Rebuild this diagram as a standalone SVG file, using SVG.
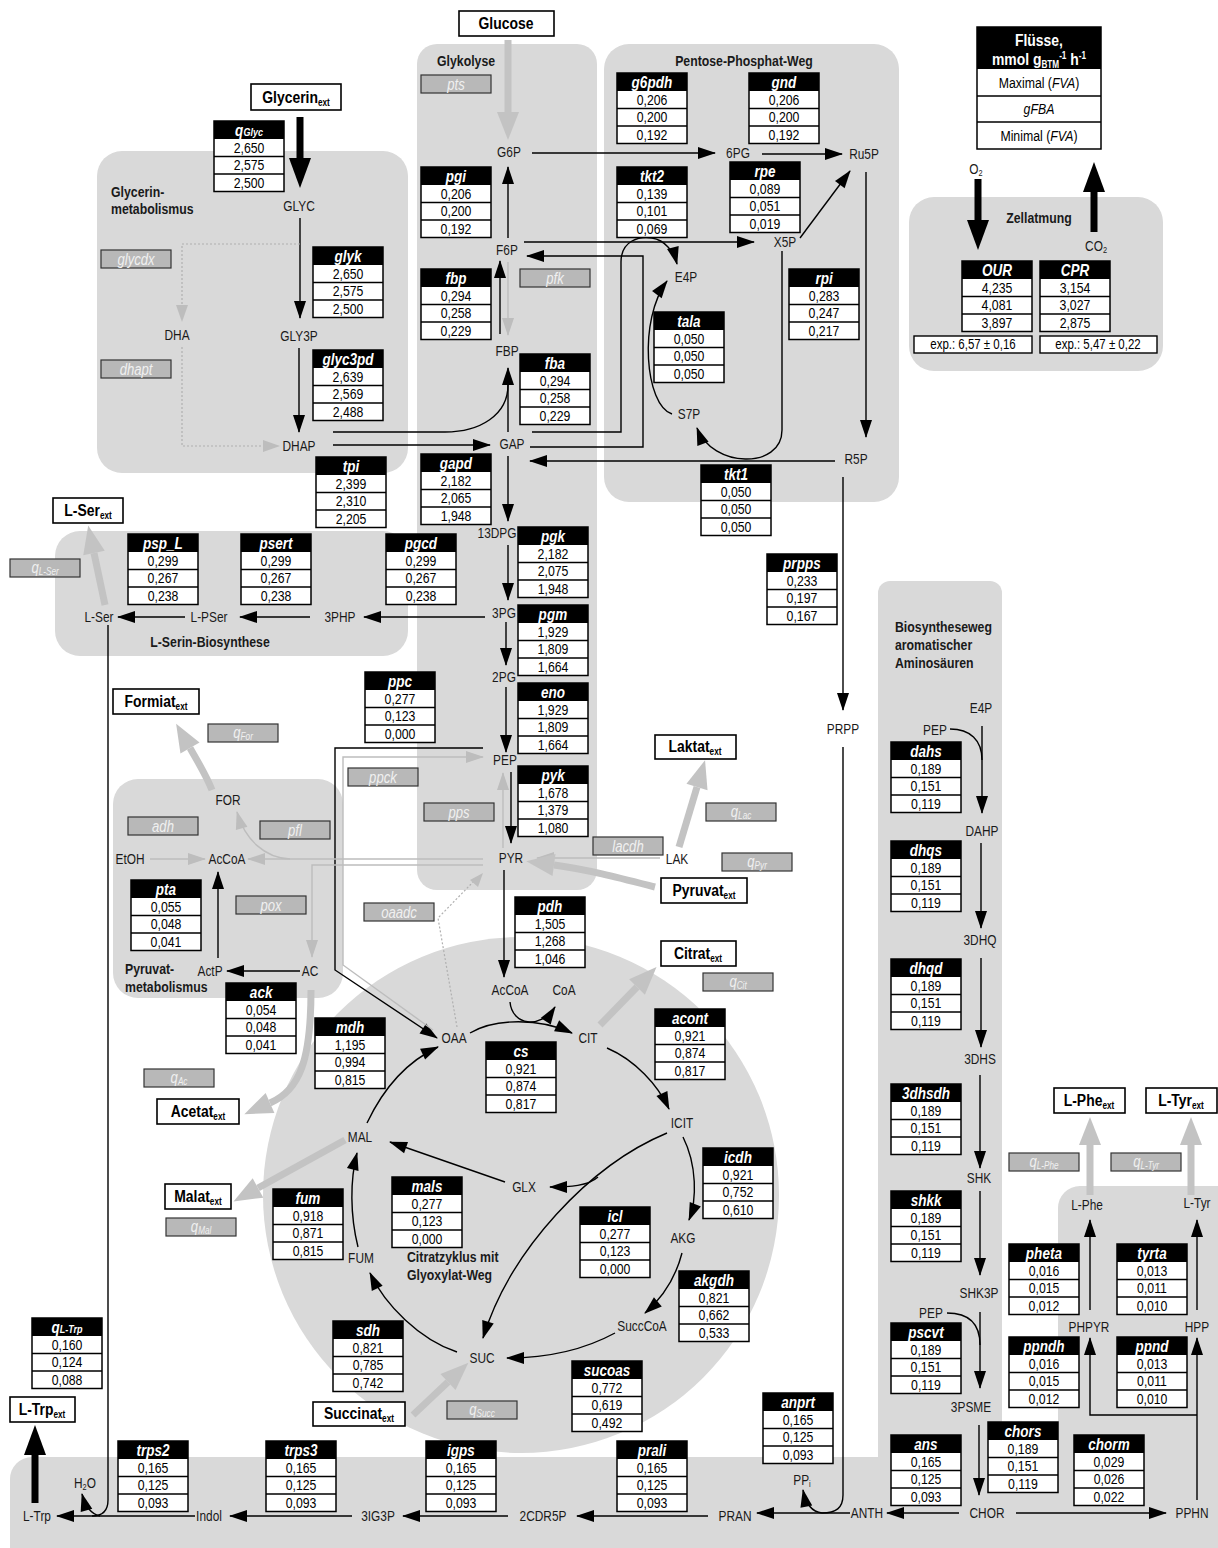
<svg xmlns="http://www.w3.org/2000/svg" width="1218" height="1548" viewBox="0 0 1218 1548">
<style>
text{transform-box:fill-box;transform-origin:center;transform:scaleX(.82)}
.m{font:14.5px "Liberation Sans",Arial,sans-serif;fill:#1a1a1a;text-anchor:middle}
.hd{font:italic bold 16.5px "Liberation Sans",Arial,sans-serif;fill:#fff;text-anchor:middle}
.v{font:15px "Liberation Sans",Arial,sans-serif;fill:#000;text-anchor:middle}
.gb{fill:#b8b8b8;stroke:#333;stroke-width:1.2}
.gt{font:italic 16px "Liberation Sans",Arial,sans-serif;fill:#f0f0f0;text-anchor:middle}
.eb{fill:#fff;stroke:#000;stroke-width:1.6}
.et{font:bold 17px "Liberation Sans",Arial,sans-serif;fill:#000;text-anchor:middle}
.lb{font:bold 15px "Liberation Sans",Arial,sans-serif;fill:#1a1a1a;transform-origin:left center}
.lbc{font:bold 15px "Liberation Sans",Arial,sans-serif;fill:#1a1a1a;text-anchor:middle}
.pn{fill:#d9d9d9}
.c{fill:none;stroke:#000;stroke-width:1.4}
.g{fill:none;stroke:#bdbdbd;stroke-width:1.4}
.d{fill:none;stroke:#b0b0b0;stroke-width:1.2;stroke-dasharray:2 2}
.tg{fill:none;stroke:#c3c3c3;stroke-width:7}
.tb{fill:none;stroke:#000;stroke-width:7}
.lw{font:bold 17px "Liberation Sans",Arial,sans-serif;fill:#fff;text-anchor:middle}
.lr{font:15px "Liberation Sans",Arial,sans-serif;fill:#000;text-anchor:middle}
.ex{font:14px "Liberation Sans",Arial,sans-serif;fill:#000;text-anchor:middle}
</style>
<defs>
<marker id="ab" markerUnits="userSpaceOnUse" markerWidth="18" markerHeight="12" refX="17" refY="6" orient="auto" viewBox="0 0 18 12" overflow="visible"><path d="M0,0 L18,6 L0,12 z" fill="#000"/></marker>
<marker id="ag" markerUnits="userSpaceOnUse" markerWidth="18" markerHeight="12" refX="17" refY="6" orient="auto" viewBox="0 0 18 12" overflow="visible"><path d="M0,0 L18,6 L0,12 z" fill="#bdbdbd"/></marker>
<marker id="atg" markerUnits="userSpaceOnUse" markerWidth="28" markerHeight="22" refX="0" refY="11" orient="auto" viewBox="0 0 28 22" overflow="visible"><path d="M0,0 L28,11 L0,22 z" fill="#c3c3c3"/></marker>
<marker id="atb" markerUnits="userSpaceOnUse" markerWidth="30" markerHeight="22" refX="0" refY="11" orient="auto" viewBox="0 0 30 22" overflow="visible"><path d="M0,0 L30,11 L0,22 z" fill="#000"/></marker>
<g id="tbl"><rect width="70" height="70.5" fill="#fff" stroke="#000" stroke-width="1.5"/><rect width="70" height="18" fill="#000"/><path d="M0,35.5H70M0,53H70" stroke="#000" stroke-width="1.5"/></g>
</defs>
<rect width="1218" height="1548" fill="#fff"/>

<g id="panels">
<rect class="pn" x="97" y="151" width="311" height="322" rx="25"/>
<rect class="pn" x="417" y="44" width="180" height="846" rx="20"/>
<rect class="pn" x="604" y="44" width="295" height="458" rx="25"/>
<rect class="pn" x="909" y="197" width="254" height="174" rx="25"/>
<rect class="pn" x="55" y="531" width="353" height="125" rx="25"/>
<rect class="pn" x="113" y="779" width="230" height="219" rx="25"/>
<circle class="pn" cx="521" cy="1195" r="258"/>
<rect class="pn" x="878" y="581" width="124" height="900" rx="12"/>
<rect class="pn" x="1058" y="1186" width="200" height="320" rx="22"/>
<rect class="pn" x="10" y="1457" width="1250" height="120" rx="22"/>
</g>

<g id="connectors">
<g class="c" marker-end="url(#ab)">
<path d="M300,218V318"/>
<path d="M299,348V432"/>
<path d="M333,445H490"/>
<path d="M508,432V368"/>
<path d="M508,238V167"/>
<path d="M500,334V261"/>
<path d="M508,456V521"/>
<path d="M508,545V600"/>
<path d="M506,622V665"/>
<path d="M506,687V752"/>
<path d="M511,772V843"/>
<path d="M504,870V977"/>
<path d="M532,153H715"/>
<path d="M762,154H842"/>
<path d="M800,238L850,171"/>
<path d="M866,172V437"/>
<path d="M835,461H530"/>
<path d="M524,242H754"/>
<path d="M530,447H643V256H527"/>
<path d="M532,432H621V262C621,240 640,236 652,238C665,240 674,252 677,264"/>
<path d="M672,414C645,405 638,320 667,281"/>
<path d="M782,251V430C782,470 712,468 697,428"/>
<path d="M843,477V710"/>
<path d="M822,1513C812,1512 806,1505 803,1490"/>
<path d="M850,1513H757"/>
<path d="M708,1516H577"/>
<path d="M508,1516H403"/>
<path d="M352,1516H230"/>
<path d="M195,1516H57"/>
<path d="M100,1516C90,1514 85,1505 82,1494"/>
<path d="M959,1513H887"/>
<path d="M1016,1513H1166"/>
<path d="M979,1425V1495"/>
<path d="M982,726V813"/>
<path d="M981,843V928"/>
<path d="M981,958V1047"/>
<path d="M980,1075V1168"/>
<path d="M980,1191V1275"/>
<path d="M980,1312V1388"/>
<path d="M1197,1500V1338"/>
<path d="M1197,1415H1090V1338"/>
<path d="M1090,1310V1220"/>
<path d="M1197,1310V1220"/>
<path d="M485,617H364"/>
<path d="M310,617H240"/>
<path d="M185,617H118"/>
<path d="M218,958V872"/>
<path d="M300,971H227"/>
<path d="M483,748H335V970L437,1038"/>
<path d="M470,1033C495,1018 540,1018 572,1033"/>
<path d="M510,1002C512,1025 540,1030 555,1007"/>
<path d="M607,1048C635,1060 658,1085 669,1109"/>
<path d="M683,1137C697,1165 697,1200 689,1220"/>
<path d="M667,1133C590,1165 510,1250 483,1338"/>
<path d="M598,1177C588,1186 570,1187 550,1187"/>
<path d="M682,1253C675,1280 660,1300 645,1313"/>
<path d="M615,1333C580,1352 540,1358 507,1358"/>
<path d="M457,1352C420,1340 385,1305 370,1273"/>
<path d="M358,1247C350,1215 350,1180 357,1153"/>
<path d="M367,1123C385,1085 410,1060 438,1047"/>
<path d="M505,1182L390,1142"/>
</g>
<g class="c">
<path d="M333,432H445C480,432 508,415 508,385"/>
<path d="M843,747V1495C843,1508 836,1513 822,1513"/>
<path d="M108,625V1500C108,1511 103,1516 92,1516"/>
<path d="M950,729C970,729 982,740 982,760"/>
<path d="M947,1313C968,1313 980,1322 980,1345"/>
</g>
<g class="g" marker-end="url(#ag)">
<path d="M508,262V335"/>
<path d="M503,848V773"/>
<path d="M660,858H537"/>
<path d="M150,859H205"/>
<path d="M483,859H248"/>
<path d="M290,859C265,858 245,840 237,812"/>
<path d="M483,865H312V957"/>
<path d="M433,1030L343,965V757H483"/>
</g>
<g class="d">
<path d="M300,244H182V310"/>
<path d="M182,347V446H266"/>
<path d="M457,1027L438,918L475,880"/>
</g>
<path d="M182,305L176,305L182,322L188,305z" fill="#bdbdbd"/>
<path d="M263,440L280,446L263,452z" fill="#bdbdbd"/>
<path d="M470,880L483,873L478,887z" fill="#bdbdbd"/>
<g class="tg" marker-end="url(#atg)">
<path d="M508,40V112"/>
<path d="M679,847L697,787"/>
<path d="M655,887C620,878 590,870 554,865"/>
<path d="M212,790C206,775 198,762 190,748"/>
<path d="M600,1025L637,987"/>
<path d="M311,990C311,1060 300,1090 270,1103"/>
<path d="M345,1140L258,1188"/>
<path d="M413,1415L448,1382"/>
<path d="M105,605L94,553"/>
<path d="M1090,1195V1145"/>
<path d="M1191,1195V1145"/>
</g>
<g class="tb" marker-end="url(#atb)">
<path d="M300,117V158"/>
<path d="M978,179V220"/>
<path d="M1094,232V192"/>
<path d="M35,1503V1455"/>
</g>
</g>

<g id="panel-labels">
<text class="lb" x="111" y="197">Glycerin-</text>
<text class="lb" x="111" y="214">metabolismus</text>
<text class="lb" x="437" y="66">Glykolyse</text>
<text class="lbc" x="744" y="66">Pentose-Phosphat-Weg</text>
<text class="lbc" x="1039" y="223">Zellatmung</text>
<text class="lbc" x="210" y="647">L-Serin-Biosynthese</text>
<text class="lb" x="125" y="974">Pyruvat-</text>
<text class="lb" x="125" y="992">metabolismus</text>
<text class="lb" x="407" y="1262">Citratzyklus mit</text>
<text class="lb" x="407" y="1280">Glyoxylat-Weg</text>
<text class="lb" x="895" y="632">Biosyntheseweg</text>
<text class="lb" x="895" y="650">aromatischer</text>
<text class="lb" x="895" y="668">Aminosäuren</text>
</g>

<g id="legend">
<rect x="977" y="27" width="124" height="122" fill="#fff" stroke="#000" stroke-width="1.5"/>
<rect x="977" y="27" width="124" height="42" fill="#000"/>
<path d="M977,96H1101M977,122H1101" stroke="#000" stroke-width="1.5"/>
<text class="lw" x="1039" y="46">Flüsse,</text>
<text class="lw" x="1039" y="65">mmol g<tspan font-size="10" dy="3">BTM</tspan><tspan font-size="10" dy="-9">-1</tspan><tspan dy="6"> h</tspan><tspan font-size="10" dy="-6">-1</tspan></text>
<text class="lr" x="1039" y="88">Maximal (<tspan font-style="italic">FVA</tspan>)</text>
<text class="lr" x="1039" y="114.5"><tspan font-style="italic">gFBA</tspan></text>
<text class="lr" x="1039" y="141">Minimal (<tspan font-style="italic">FVA</tspan>)</text>
</g>

<g id="ext-nodes">
<g id="n-glycerin-ext"><rect class="eb" x="251" y="84" width="90" height="26"/><text class="et" x="296" y="103">Glycerin<tspan font-size="10" dy="3">ext</tspan></text></g>
<g id="n-glucose"><rect class="eb" x="459" y="11" width="95" height="25"/><text class="et" x="506" y="29.5">Glucose</text></g>
<g id="n-lser-ext"><rect class="eb" x="53" y="498" width="70" height="25"/><text class="et" x="88" y="516">L-Ser<tspan font-size="10" dy="3">ext</tspan></text></g>
<g id="n-formiat-ext"><rect class="eb" x="113" y="689" width="86" height="25"/><text class="et" x="156" y="707">Formiat<tspan font-size="10" dy="3">ext</tspan></text></g>
<g id="n-laktat-ext"><rect class="eb" x="655" y="735" width="81" height="24"/><text class="et" x="695" y="752.5">Laktat<tspan font-size="10" dy="3">ext</tspan></text></g>
<g id="n-pyruvat-ext"><rect class="eb" x="661" y="878" width="86" height="25"/><text class="et" x="704" y="896">Pyruvat<tspan font-size="10" dy="3">ext</tspan></text></g>
<g id="n-citrat-ext"><rect class="eb" x="661" y="941" width="75" height="25"/><text class="et" x="698" y="959">Citrat<tspan font-size="10" dy="3">ext</tspan></text></g>
<g id="n-acetat-ext"><rect class="eb" x="157" y="1099" width="82" height="25"/><text class="et" x="198" y="1117">Acetat<tspan font-size="10" dy="3">ext</tspan></text></g>
<g id="n-malat-ext"><rect class="eb" x="165" y="1184" width="66" height="25"/><text class="et" x="198" y="1202">Malat<tspan font-size="10" dy="3">ext</tspan></text></g>
<g id="n-succinat-ext"><rect class="eb" x="313" y="1402" width="92" height="24"/><text class="et" x="359" y="1419.5">Succinat<tspan font-size="10" dy="3">ext</tspan></text></g>
<g id="n-ltrp-ext"><rect class="eb" x="10" y="1397" width="65" height="25"/><text class="et" x="42" y="1415">L-Trp<tspan font-size="10" dy="3">ext</tspan></text></g>
<g id="n-lphe-ext"><rect class="eb" x="1054" y="1088" width="71" height="25"/><text class="et" x="1089" y="1106">L-Phe<tspan font-size="10" dy="3">ext</tspan></text></g>
<g id="n-ltyr-ext"><rect class="eb" x="1146" y="1088" width="71" height="25"/><text class="et" x="1181" y="1106">L-Tyr<tspan font-size="10" dy="3">ext</tspan></text></g>
<g id="n-exp-our"><rect x="914" y="336" width="118" height="17" fill="#fff" stroke="#000" stroke-width="1.4"/><text class="ex" x="973" y="349.5">exp.: 6,57 ± 0,16</text></g>
<g id="n-exp-cpr"><rect x="1040" y="336" width="117" height="17" fill="#fff" stroke="#000" stroke-width="1.4"/><text class="ex" x="1098" y="349.5">exp.: 5,47 ± 0,22</text></g>
</g>

<g id="grey-enzymes">
<g id="e-glycdx"><rect class="gb" x="101" y="250" width="70" height="18"/><text class="gt" x="136" y="265">glycdx</text></g>
<g id="e-dhapt"><rect class="gb" x="101" y="360" width="70" height="18"/><text class="gt" x="136" y="375">dhapt</text></g>
<g id="e-pts"><rect class="gb" x="421" y="75" width="70" height="18"/><text class="gt" x="456" y="90">pts</text></g>
<g id="e-pfk"><rect class="gb" x="520" y="269" width="70" height="18"/><text class="gt" x="555" y="284">pfk</text></g>
<g id="e-pps"><rect class="gb" x="424" y="803" width="70" height="18"/><text class="gt" x="459" y="818">pps</text></g>
<g id="e-lacdh"><rect class="gb" x="593" y="837" width="70" height="18"/><text class="gt" x="628" y="852">lacdh</text></g>
<g id="e-qlac"><rect class="gb" x="706" y="803" width="70" height="18"/><text class="gt" x="741" y="817">q<tspan font-size="10" dy="2">Lac</tspan></text></g>
<g id="e-qpyr"><rect class="gb" x="722" y="853" width="70" height="18"/><text class="gt" x="757" y="867">q<tspan font-size="10" dy="2">Pyr</tspan></text></g>
<g id="e-qcit"><rect class="gb" x="703" y="973" width="70" height="18"/><text class="gt" x="738" y="987">q<tspan font-size="10" dy="2">Cit</tspan></text></g>
<g id="e-qfor"><rect class="gb" x="208" y="724" width="70" height="18"/><text class="gt" x="243" y="738">q<tspan font-size="10" dy="2">For</tspan></text></g>
<g id="e-adh"><rect class="gb" x="128" y="817" width="70" height="18"/><text class="gt" x="163" y="832">adh</text></g>
<g id="e-pfl"><rect class="gb" x="260" y="821" width="70" height="18"/><text class="gt" x="295" y="836">pfl</text></g>
<g id="e-pox"><rect class="gb" x="236" y="896" width="70" height="18"/><text class="gt" x="271" y="911">pox</text></g>
<g id="e-oaadc"><rect class="gb" x="364" y="903" width="70" height="18"/><text class="gt" x="399" y="918">oaadc</text></g>
<g id="e-ppck"><rect class="gb" x="348" y="768" width="70" height="18"/><text class="gt" x="383" y="783">ppck</text></g>
<g id="e-qlser"><rect class="gb" x="10" y="559" width="70" height="18"/><text class="gt" x="45" y="573">q<tspan font-size="10" dy="2">L-Ser</tspan></text></g>
<g id="e-qac"><rect class="gb" x="144" y="1069" width="70" height="18"/><text class="gt" x="179" y="1083">q<tspan font-size="10" dy="2">Ac</tspan></text></g>
<g id="e-qmal"><rect class="gb" x="166" y="1218" width="70" height="18"/><text class="gt" x="201" y="1232">q<tspan font-size="10" dy="2">Mal</tspan></text></g>
<g id="e-qsucc"><rect class="gb" x="447" y="1401" width="70" height="18"/><text class="gt" x="482" y="1415">q<tspan font-size="10" dy="2">Succ</tspan></text></g>
<g id="e-qlphe"><rect class="gb" x="1009" y="1153" width="70" height="18"/><text class="gt" x="1044" y="1167">q<tspan font-size="10" dy="2">L-Phe</tspan></text></g>
<g id="e-qltyr"><rect class="gb" x="1111" y="1153" width="70" height="18"/><text class="gt" x="1146" y="1167">q<tspan font-size="10" dy="2">L-Tyr</tspan></text></g>
</g>

<g id="flux-tables">
<g id="t-qglyc" transform="translate(214,121)"><use href="#tbl"/><text class="hd" x="35" y="14.5">q<tspan font-size="11" dy="1">Glyc</tspan></text><text class="v" x="35" y="32">2,650</text><text class="v" x="35" y="49.5">2,575</text><text class="v" x="35" y="67">2,500</text></g>
<g id="t-glyk" transform="translate(313,247)"><use href="#tbl"/><text class="hd" x="35" y="14.5">glyk</text><text class="v" x="35" y="32">2,650</text><text class="v" x="35" y="49.5">2,575</text><text class="v" x="35" y="67">2,500</text></g>
<g id="t-glyc3pd" transform="translate(313,350)"><use href="#tbl"/><text class="hd" x="35" y="14.5">glyc3pd</text><text class="v" x="35" y="32">2,639</text><text class="v" x="35" y="49.5">2,569</text><text class="v" x="35" y="67">2,488</text></g>
<g id="t-tpi" transform="translate(316,457)"><use href="#tbl"/><text class="hd" x="35" y="14.5">tpi</text><text class="v" x="35" y="32">2,399</text><text class="v" x="35" y="49.5">2,310</text><text class="v" x="35" y="67">2,205</text></g>
<g id="t-pgi" transform="translate(421,167)"><use href="#tbl"/><text class="hd" x="35" y="14.5">pgi</text><text class="v" x="35" y="32">0,206</text><text class="v" x="35" y="49.5">0,200</text><text class="v" x="35" y="67">0,192</text></g>
<g id="t-fbp" transform="translate(421,269)"><use href="#tbl"/><text class="hd" x="35" y="14.5">fbp</text><text class="v" x="35" y="32">0,294</text><text class="v" x="35" y="49.5">0,258</text><text class="v" x="35" y="67">0,229</text></g>
<g id="t-fba" transform="translate(520,354)"><use href="#tbl"/><text class="hd" x="35" y="14.5">fba</text><text class="v" x="35" y="32">0,294</text><text class="v" x="35" y="49.5">0,258</text><text class="v" x="35" y="67">0,229</text></g>
<g id="t-gapd" transform="translate(421,454)"><use href="#tbl"/><text class="hd" x="35" y="14.5">gapd</text><text class="v" x="35" y="32">2,182</text><text class="v" x="35" y="49.5">2,065</text><text class="v" x="35" y="67">1,948</text></g>
<g id="t-g6pdh" transform="translate(617,73)"><use href="#tbl"/><text class="hd" x="35" y="14.5">g6pdh</text><text class="v" x="35" y="32">0,206</text><text class="v" x="35" y="49.5">0,200</text><text class="v" x="35" y="67">0,192</text></g>
<g id="t-gnd" transform="translate(749,73)"><use href="#tbl"/><text class="hd" x="35" y="14.5">gnd</text><text class="v" x="35" y="32">0,206</text><text class="v" x="35" y="49.5">0,200</text><text class="v" x="35" y="67">0,192</text></g>
<g id="t-tkt2" transform="translate(617,167)"><use href="#tbl"/><text class="hd" x="35" y="14.5">tkt2</text><text class="v" x="35" y="32">0,139</text><text class="v" x="35" y="49.5">0,101</text><text class="v" x="35" y="67">0,069</text></g>
<g id="t-rpe" transform="translate(730,162)"><use href="#tbl"/><text class="hd" x="35" y="14.5">rpe</text><text class="v" x="35" y="32">0,089</text><text class="v" x="35" y="49.5">0,051</text><text class="v" x="35" y="67">0,019</text></g>
<g id="t-tala" transform="translate(654,312)"><use href="#tbl"/><text class="hd" x="35" y="14.5">tala</text><text class="v" x="35" y="32">0,050</text><text class="v" x="35" y="49.5">0,050</text><text class="v" x="35" y="67">0,050</text></g>
<g id="t-tkt1" transform="translate(701,465)"><use href="#tbl"/><text class="hd" x="35" y="14.5">tkt1</text><text class="v" x="35" y="32">0,050</text><text class="v" x="35" y="49.5">0,050</text><text class="v" x="35" y="67">0,050</text></g>
<g id="t-rpi" transform="translate(789,269)"><use href="#tbl"/><text class="hd" x="35" y="14.5">rpi</text><text class="v" x="35" y="32">0,283</text><text class="v" x="35" y="49.5">0,247</text><text class="v" x="35" y="67">0,217</text></g>
<g id="t-our" transform="translate(962,261)"><use href="#tbl"/><text class="hd" x="35" y="14.5">OUR</text><text class="v" x="35" y="32">4,235</text><text class="v" x="35" y="49.5">4,081</text><text class="v" x="35" y="67">3,897</text></g>
<g id="t-cpr" transform="translate(1040,261)"><use href="#tbl"/><text class="hd" x="35" y="14.5">CPR</text><text class="v" x="35" y="32">3,154</text><text class="v" x="35" y="49.5">3,027</text><text class="v" x="35" y="67">2,875</text></g>
<g id="t-psp_l" transform="translate(128,534)"><use href="#tbl"/><text class="hd" x="35" y="14.5">psp_L</text><text class="v" x="35" y="32">0,299</text><text class="v" x="35" y="49.5">0,267</text><text class="v" x="35" y="67">0,238</text></g>
<g id="t-psert" transform="translate(241,534)"><use href="#tbl"/><text class="hd" x="35" y="14.5">psert</text><text class="v" x="35" y="32">0,299</text><text class="v" x="35" y="49.5">0,267</text><text class="v" x="35" y="67">0,238</text></g>
<g id="t-pgcd" transform="translate(386,534)"><use href="#tbl"/><text class="hd" x="35" y="14.5">pgcd</text><text class="v" x="35" y="32">0,299</text><text class="v" x="35" y="49.5">0,267</text><text class="v" x="35" y="67">0,238</text></g>
<g id="t-pgk" transform="translate(518,527)"><use href="#tbl"/><text class="hd" x="35" y="14.5">pgk</text><text class="v" x="35" y="32">2,182</text><text class="v" x="35" y="49.5">2,075</text><text class="v" x="35" y="67">1,948</text></g>
<g id="t-pgm" transform="translate(518,605)"><use href="#tbl"/><text class="hd" x="35" y="14.5">pgm</text><text class="v" x="35" y="32">1,929</text><text class="v" x="35" y="49.5">1,809</text><text class="v" x="35" y="67">1,664</text></g>
<g id="t-eno" transform="translate(518,683)"><use href="#tbl"/><text class="hd" x="35" y="14.5">eno</text><text class="v" x="35" y="32">1,929</text><text class="v" x="35" y="49.5">1,809</text><text class="v" x="35" y="67">1,664</text></g>
<g id="t-pyk" transform="translate(518,766)"><use href="#tbl"/><text class="hd" x="35" y="14.5">pyk</text><text class="v" x="35" y="32">1,678</text><text class="v" x="35" y="49.5">1,379</text><text class="v" x="35" y="67">1,080</text></g>
<g id="t-pdh" transform="translate(515,897)"><use href="#tbl"/><text class="hd" x="35" y="14.5">pdh</text><text class="v" x="35" y="32">1,505</text><text class="v" x="35" y="49.5">1,268</text><text class="v" x="35" y="67">1,046</text></g>
<g id="t-ppc" transform="translate(365,672)"><use href="#tbl"/><text class="hd" x="35" y="14.5">ppc</text><text class="v" x="35" y="32">0,277</text><text class="v" x="35" y="49.5">0,123</text><text class="v" x="35" y="67">0,000</text></g>
<g id="t-prpps" transform="translate(767,554)"><use href="#tbl"/><text class="hd" x="35" y="14.5">prpps</text><text class="v" x="35" y="32">0,233</text><text class="v" x="35" y="49.5">0,197</text><text class="v" x="35" y="67">0,167</text></g>
<g id="t-pta" transform="translate(131,880)"><use href="#tbl"/><text class="hd" x="35" y="14.5">pta</text><text class="v" x="35" y="32">0,055</text><text class="v" x="35" y="49.5">0,048</text><text class="v" x="35" y="67">0,041</text></g>
<g id="t-ack" transform="translate(226,983)"><use href="#tbl"/><text class="hd" x="35" y="14.5">ack</text><text class="v" x="35" y="32">0,054</text><text class="v" x="35" y="49.5">0,048</text><text class="v" x="35" y="67">0,041</text></g>
<g id="t-mdh" transform="translate(315,1018)"><use href="#tbl"/><text class="hd" x="35" y="14.5">mdh</text><text class="v" x="35" y="32">1,195</text><text class="v" x="35" y="49.5">0,994</text><text class="v" x="35" y="67">0,815</text></g>
<g id="t-cs" transform="translate(486,1042)"><use href="#tbl"/><text class="hd" x="35" y="14.5">cs</text><text class="v" x="35" y="32">0,921</text><text class="v" x="35" y="49.5">0,874</text><text class="v" x="35" y="67">0,817</text></g>
<g id="t-acont" transform="translate(655,1009)"><use href="#tbl"/><text class="hd" x="35" y="14.5">acont</text><text class="v" x="35" y="32">0,921</text><text class="v" x="35" y="49.5">0,874</text><text class="v" x="35" y="67">0,817</text></g>
<g id="t-icdh" transform="translate(703,1148)"><use href="#tbl"/><text class="hd" x="35" y="14.5">icdh</text><text class="v" x="35" y="32">0,921</text><text class="v" x="35" y="49.5">0,752</text><text class="v" x="35" y="67">0,610</text></g>
<g id="t-mals" transform="translate(392,1177)"><use href="#tbl"/><text class="hd" x="35" y="14.5">mals</text><text class="v" x="35" y="32">0,277</text><text class="v" x="35" y="49.5">0,123</text><text class="v" x="35" y="67">0,000</text></g>
<g id="t-fum" transform="translate(273,1189)"><use href="#tbl"/><text class="hd" x="35" y="14.5">fum</text><text class="v" x="35" y="32">0,918</text><text class="v" x="35" y="49.5">0,871</text><text class="v" x="35" y="67">0,815</text></g>
<g id="t-icl" transform="translate(580,1207)"><use href="#tbl"/><text class="hd" x="35" y="14.5">icl</text><text class="v" x="35" y="32">0,277</text><text class="v" x="35" y="49.5">0,123</text><text class="v" x="35" y="67">0,000</text></g>
<g id="t-akgdh" transform="translate(679,1271)"><use href="#tbl"/><text class="hd" x="35" y="14.5">akgdh</text><text class="v" x="35" y="32">0,821</text><text class="v" x="35" y="49.5">0,662</text><text class="v" x="35" y="67">0,533</text></g>
<g id="t-sdh" transform="translate(333,1321)"><use href="#tbl"/><text class="hd" x="35" y="14.5">sdh</text><text class="v" x="35" y="32">0,821</text><text class="v" x="35" y="49.5">0,785</text><text class="v" x="35" y="67">0,742</text></g>
<g id="t-sucoas" transform="translate(572,1361)"><use href="#tbl"/><text class="hd" x="35" y="14.5">sucoas</text><text class="v" x="35" y="32">0,772</text><text class="v" x="35" y="49.5">0,619</text><text class="v" x="35" y="67">0,492</text></g>
<g id="t-qltrp" transform="translate(32,1318)"><use href="#tbl"/><text class="hd" x="35" y="14.5">q<tspan font-size="11" dy="1">L-Trp</tspan></text><text class="v" x="35" y="32">0,160</text><text class="v" x="35" y="49.5">0,124</text><text class="v" x="35" y="67">0,088</text></g>
<g id="t-trps2" transform="translate(118,1441)"><use href="#tbl"/><text class="hd" x="35" y="14.5">trps2</text><text class="v" x="35" y="32">0,165</text><text class="v" x="35" y="49.5">0,125</text><text class="v" x="35" y="67">0,093</text></g>
<g id="t-trps3" transform="translate(266,1441)"><use href="#tbl"/><text class="hd" x="35" y="14.5">trps3</text><text class="v" x="35" y="32">0,165</text><text class="v" x="35" y="49.5">0,125</text><text class="v" x="35" y="67">0,093</text></g>
<g id="t-igps" transform="translate(426,1441)"><use href="#tbl"/><text class="hd" x="35" y="14.5">igps</text><text class="v" x="35" y="32">0,165</text><text class="v" x="35" y="49.5">0,125</text><text class="v" x="35" y="67">0,093</text></g>
<g id="t-prali" transform="translate(617,1441)"><use href="#tbl"/><text class="hd" x="35" y="14.5">prali</text><text class="v" x="35" y="32">0,165</text><text class="v" x="35" y="49.5">0,125</text><text class="v" x="35" y="67">0,093</text></g>
<g id="t-anprt" transform="translate(763,1393)"><use href="#tbl"/><text class="hd" x="35" y="14.5">anprt</text><text class="v" x="35" y="32">0,165</text><text class="v" x="35" y="49.5">0,125</text><text class="v" x="35" y="67">0,093</text></g>
<g id="t-ans" transform="translate(891,1435)"><use href="#tbl"/><text class="hd" x="35" y="14.5">ans</text><text class="v" x="35" y="32">0,165</text><text class="v" x="35" y="49.5">0,125</text><text class="v" x="35" y="67">0,093</text></g>
<g id="t-chors" transform="translate(988,1422)"><use href="#tbl"/><text class="hd" x="35" y="14.5">chors</text><text class="v" x="35" y="32">0,189</text><text class="v" x="35" y="49.5">0,151</text><text class="v" x="35" y="67">0,119</text></g>
<g id="t-chorm" transform="translate(1074,1435)"><use href="#tbl"/><text class="hd" x="35" y="14.5">chorm</text><text class="v" x="35" y="32">0,029</text><text class="v" x="35" y="49.5">0,026</text><text class="v" x="35" y="67">0,022</text></g>
<g id="t-dahs" transform="translate(891,742)"><use href="#tbl"/><text class="hd" x="35" y="14.5">dahs</text><text class="v" x="35" y="32">0,189</text><text class="v" x="35" y="49.5">0,151</text><text class="v" x="35" y="67">0,119</text></g>
<g id="t-dhqs" transform="translate(891,841)"><use href="#tbl"/><text class="hd" x="35" y="14.5">dhqs</text><text class="v" x="35" y="32">0,189</text><text class="v" x="35" y="49.5">0,151</text><text class="v" x="35" y="67">0,119</text></g>
<g id="t-dhqd" transform="translate(891,959)"><use href="#tbl"/><text class="hd" x="35" y="14.5">dhqd</text><text class="v" x="35" y="32">0,189</text><text class="v" x="35" y="49.5">0,151</text><text class="v" x="35" y="67">0,119</text></g>
<g id="t-3dhsdh" transform="translate(891,1084)"><use href="#tbl"/><text class="hd" x="35" y="14.5">3dhsdh</text><text class="v" x="35" y="32">0,189</text><text class="v" x="35" y="49.5">0,151</text><text class="v" x="35" y="67">0,119</text></g>
<g id="t-shkk" transform="translate(891,1191)"><use href="#tbl"/><text class="hd" x="35" y="14.5">shkk</text><text class="v" x="35" y="32">0,189</text><text class="v" x="35" y="49.5">0,151</text><text class="v" x="35" y="67">0,119</text></g>
<g id="t-pscvt" transform="translate(891,1323)"><use href="#tbl"/><text class="hd" x="35" y="14.5">pscvt</text><text class="v" x="35" y="32">0,189</text><text class="v" x="35" y="49.5">0,151</text><text class="v" x="35" y="67">0,119</text></g>
<g id="t-pheta" transform="translate(1009,1244)"><use href="#tbl"/><text class="hd" x="35" y="14.5">pheta</text><text class="v" x="35" y="32">0,016</text><text class="v" x="35" y="49.5">0,015</text><text class="v" x="35" y="67">0,012</text></g>
<g id="t-tyrta" transform="translate(1117,1244)"><use href="#tbl"/><text class="hd" x="35" y="14.5">tyrta</text><text class="v" x="35" y="32">0,013</text><text class="v" x="35" y="49.5">0,011</text><text class="v" x="35" y="67">0,010</text></g>
<g id="t-ppndh" transform="translate(1009,1337)"><use href="#tbl"/><text class="hd" x="35" y="14.5">ppndh</text><text class="v" x="35" y="32">0,016</text><text class="v" x="35" y="49.5">0,015</text><text class="v" x="35" y="67">0,012</text></g>
<g id="t-ppnd" transform="translate(1117,1337)"><use href="#tbl"/><text class="hd" x="35" y="14.5">ppnd</text><text class="v" x="35" y="32">0,013</text><text class="v" x="35" y="49.5">0,011</text><text class="v" x="35" y="67">0,010</text></g>
</g>

<g id="metabolites">
<g id="m-glyc"><text class="m" x="299" y="211">GLYC</text></g>
<g id="m-gly3p"><text class="m" x="299" y="341">GLY3P</text></g>
<g id="m-dhap"><text class="m" x="299" y="451">DHAP</text></g>
<g id="m-dha"><text class="m" x="177" y="340">DHA</text></g>
<g id="m-g6p"><text class="m" x="509" y="157">G6P</text></g>
<g id="m-f6p"><text class="m" x="507" y="255">F6P</text></g>
<g id="m-fbp"><text class="m" x="507" y="356">FBP</text></g>
<g id="m-gap"><text class="m" x="512" y="449">GAP</text></g>
<g id="m-13dpg"><text class="m" x="497" y="538">13DPG</text></g>
<g id="m-3pg"><text class="m" x="504" y="618">3PG</text></g>
<g id="m-2pg"><text class="m" x="504" y="682">2PG</text></g>
<g id="m-pep"><text class="m" x="505" y="765">PEP</text></g>
<g id="m-pyr"><text class="m" x="511" y="863">PYR</text></g>
<g id="m-lak"><text class="m" x="677" y="864">LAK</text></g>
<g id="m-accoa-tca"><text class="m" x="510" y="995">AcCoA</text></g>
<g id="m-coa"><text class="m" x="564" y="995">CoA</text></g>
<g id="m-6pg"><text class="m" x="738" y="158">6PG</text></g>
<g id="m-ru5p"><text class="m" x="864" y="159">Ru5P</text></g>
<g id="m-x5p"><text class="m" x="785" y="247">X5P</text></g>
<g id="m-e4p"><text class="m" x="686" y="282">E4P</text></g>
<g id="m-s7p"><text class="m" x="689" y="419">S7P</text></g>
<g id="m-r5p"><text class="m" x="856" y="464">R5P</text></g>
<g id="m-prpp"><text class="m" x="843" y="734">PRPP</text></g>
<g id="m-oaa"><text class="m" x="454" y="1043">OAA</text></g>
<g id="m-cit"><text class="m" x="588" y="1043">CIT</text></g>
<g id="m-icit"><text class="m" x="682" y="1128">ICIT</text></g>
<g id="m-akg"><text class="m" x="683" y="1243">AKG</text></g>
<g id="m-succcoa"><text class="m" x="642" y="1331">SuccCoA</text></g>
<g id="m-suc"><text class="m" x="482" y="1363">SUC</text></g>
<g id="m-glx"><text class="m" x="524" y="1192">GLX</text></g>
<g id="m-mal"><text class="m" x="360" y="1142">MAL</text></g>
<g id="m-fum"><text class="m" x="361" y="1263">FUM</text></g>
<g id="m-for"><text class="m" x="228" y="805">FOR</text></g>
<g id="m-etoh"><text class="m" x="130" y="864">EtOH</text></g>
<g id="m-accoa"><text class="m" x="227" y="864">AcCoA</text></g>
<g id="m-actp"><text class="m" x="210" y="976">ActP</text></g>
<g id="m-ac"><text class="m" x="310" y="976">AC</text></g>
<g id="m-lser"><text class="m" x="99" y="622">L-Ser</text></g>
<g id="m-lpser"><text class="m" x="209" y="622">L-PSer</text></g>
<g id="m-3php"><text class="m" x="340" y="622">3PHP</text></g>
<g id="m-ltrp"><text class="m" x="37" y="1521">L-Trp</text></g>
<g id="m-h2o"><text class="m" x="85" y="1488">H<tspan font-size="9" dy="2">2</tspan><tspan dy="-2">O</tspan></text></g>
<g id="m-indol"><text class="m" x="209" y="1521">Indol</text></g>
<g id="m-3ig3p"><text class="m" x="378" y="1521">3IG3P</text></g>
<g id="m-2cdr5p"><text class="m" x="543" y="1521">2CDR5P</text></g>
<g id="m-pran"><text class="m" x="735" y="1521">PRAN</text></g>
<g id="m-ppi"><text class="m" x="802" y="1485">PP<tspan font-size="9" dy="2">i</tspan></text></g>
<g id="m-anth"><text class="m" x="867" y="1518">ANTH</text></g>
<g id="m-chor"><text class="m" x="987" y="1518">CHOR</text></g>
<g id="m-pphn"><text class="m" x="1192" y="1518">PPHN</text></g>
<g id="m-e4p-aro"><text class="m" x="981" y="713">E4P</text></g>
<g id="m-pep-aro1"><text class="m" x="935" y="735">PEP</text></g>
<g id="m-dahp"><text class="m" x="982" y="836">DAHP</text></g>
<g id="m-3dhq"><text class="m" x="980" y="945">3DHQ</text></g>
<g id="m-3dhs"><text class="m" x="980" y="1064">3DHS</text></g>
<g id="m-shk"><text class="m" x="979" y="1183">SHK</text></g>
<g id="m-shk3p"><text class="m" x="979" y="1298">SHK3P</text></g>
<g id="m-pep-aro2"><text class="m" x="931" y="1318">PEP</text></g>
<g id="m-3psme"><text class="m" x="971" y="1412">3PSME</text></g>
<g id="m-phpyr"><text class="m" x="1089" y="1332">PHPYR</text></g>
<g id="m-hpp"><text class="m" x="1197" y="1332">HPP</text></g>
<g id="m-lphe"><text class="m" x="1087" y="1210">L-Phe</text></g>
<g id="m-ltyr"><text class="m" x="1197" y="1208">L-Tyr</text></g>
<g id="m-o2"><text class="m" x="976" y="174">O<tspan font-size="9" dy="2">2</tspan></text></g>
<g id="m-co2"><text class="m" x="1096" y="251">CO<tspan font-size="9" dy="2">2</tspan></text></g>
</g>
</svg>
